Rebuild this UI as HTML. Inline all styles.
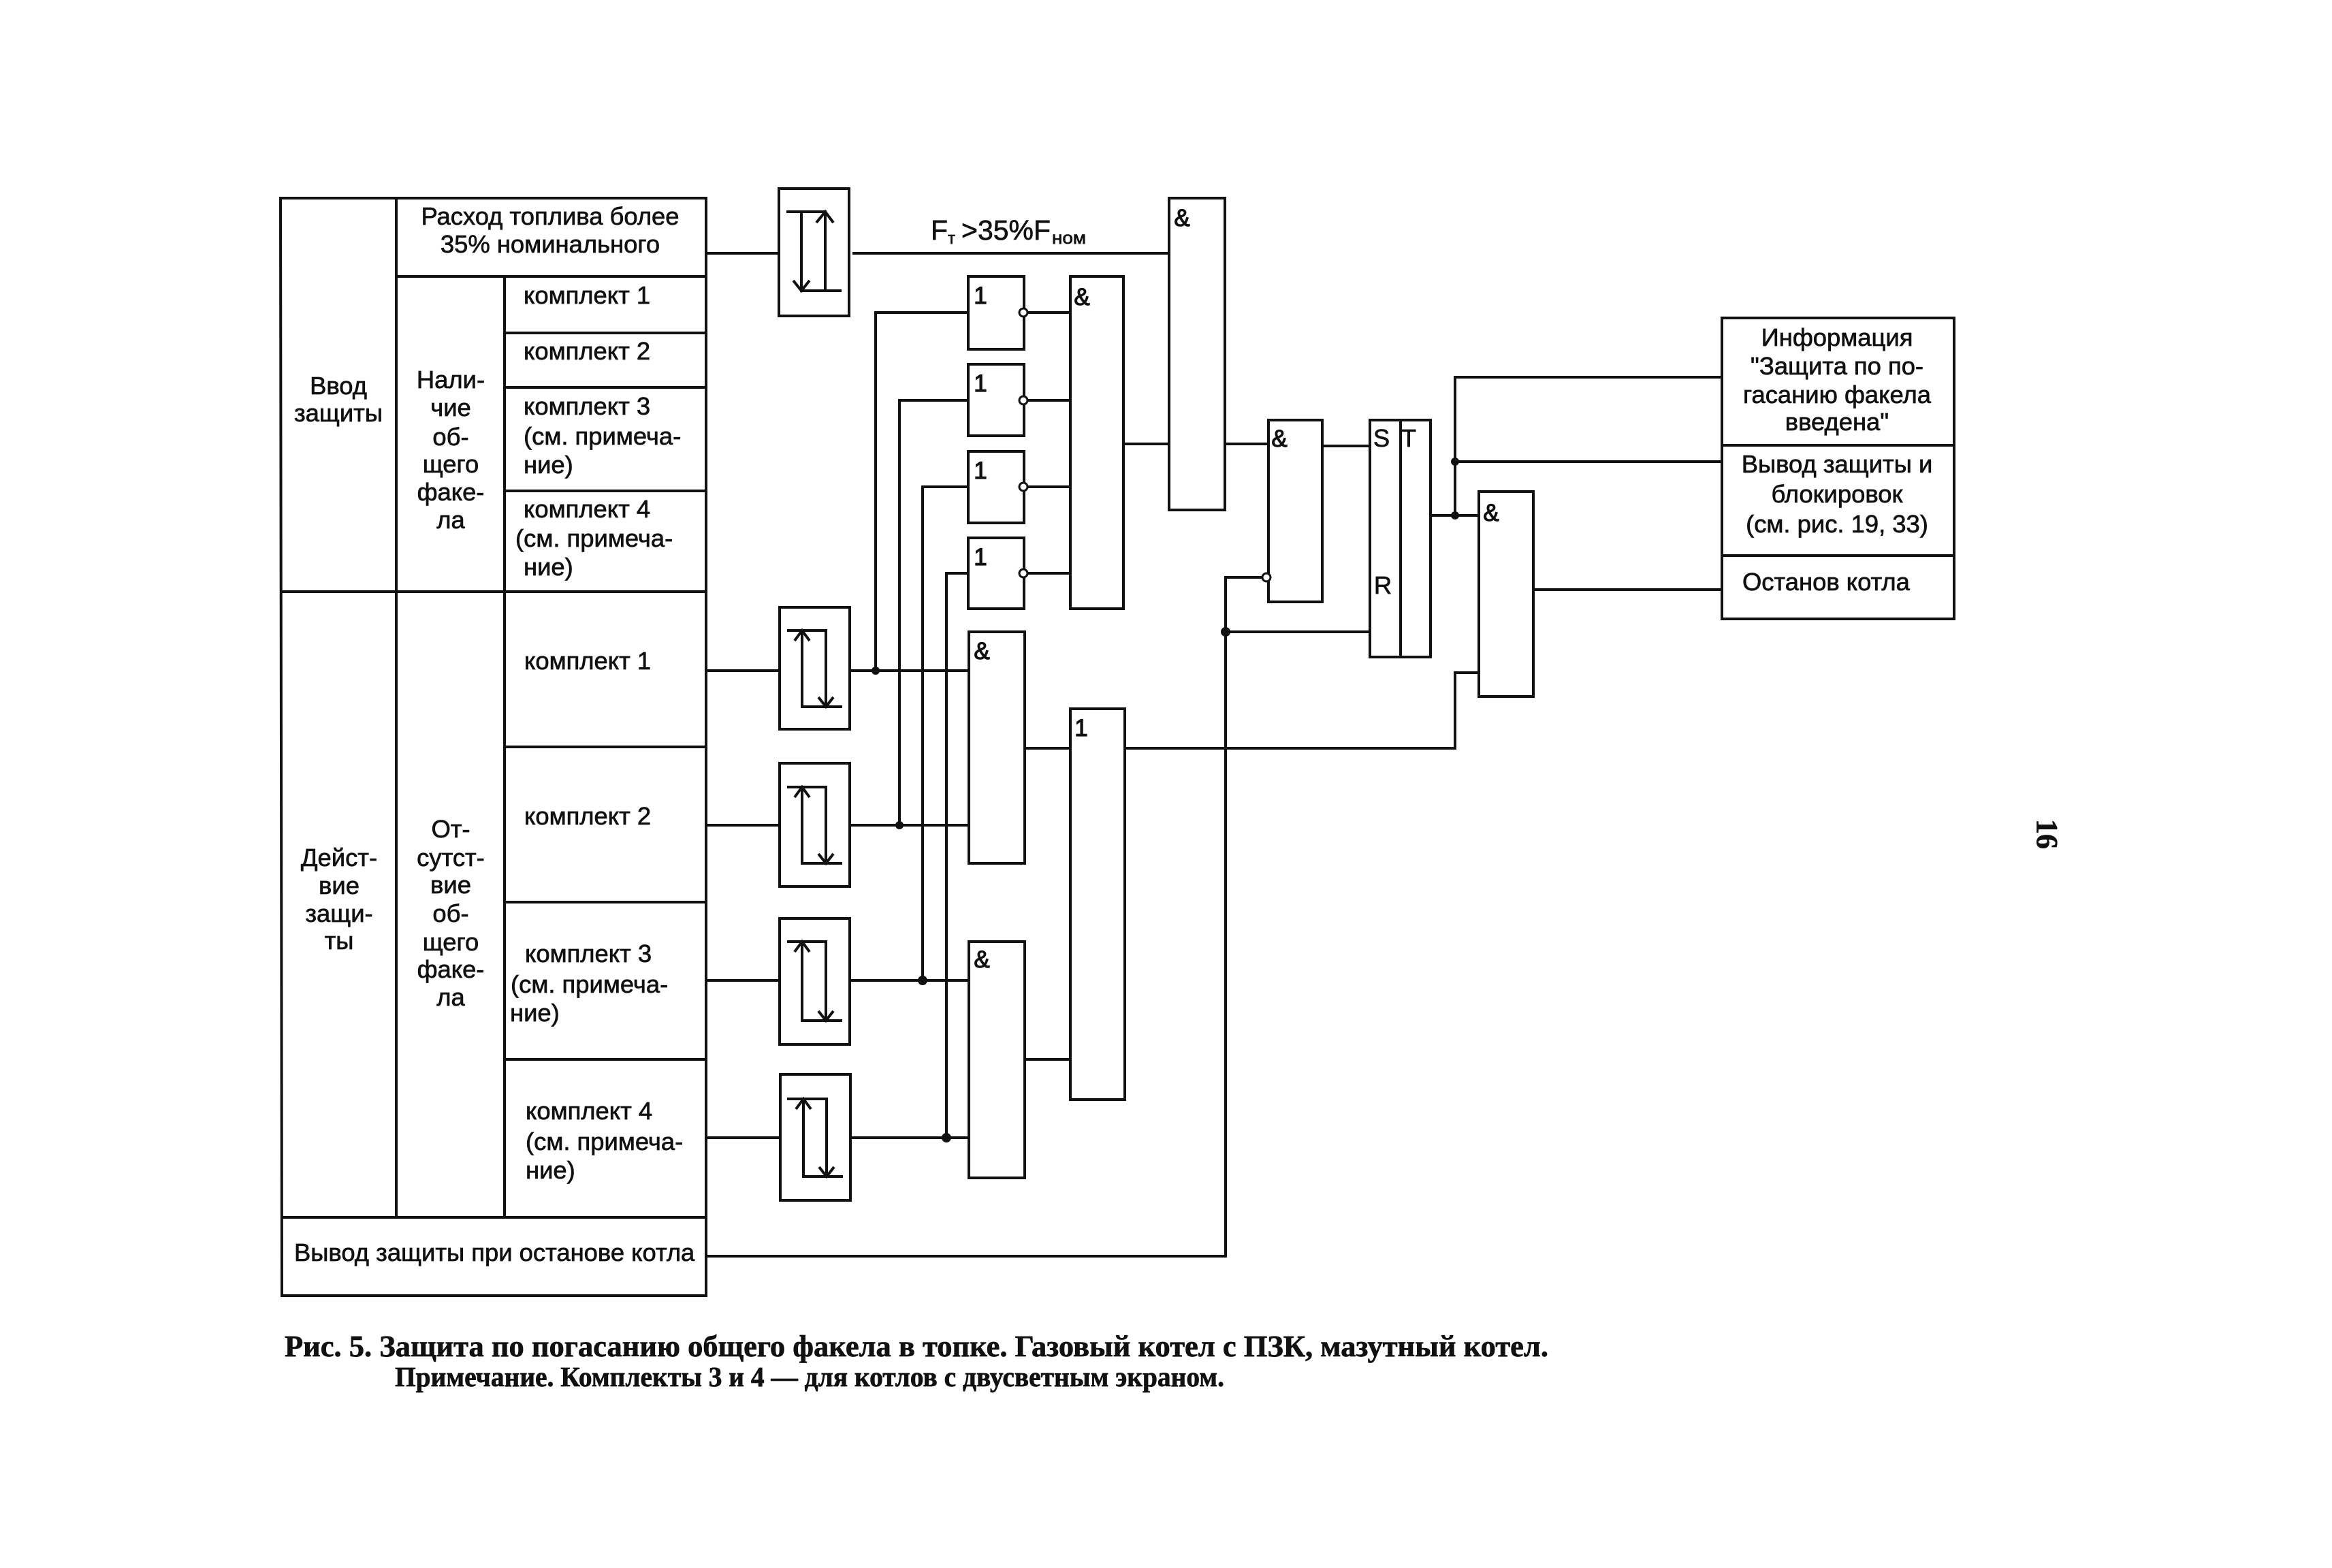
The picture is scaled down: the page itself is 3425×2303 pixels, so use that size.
<!DOCTYPE html>
<html><head><meta charset="utf-8"><style>
html,body{margin:0;padding:0;background:#fff}
svg{display:block}
text{font-family:"Liberation Sans",sans-serif;font-size:36.4px;fill:#111;stroke:#111;stroke-width:.7px}
.c{text-anchor:middle}
.g{font-size:35px;stroke-width:1.2px}
.s{font-family:"Liberation Serif",serif;font-weight:bold;font-size:44px}
</style></head><body>
<svg width="3425" height="2303" viewBox="0 0 3425 2303" xmlns="http://www.w3.org/2000/svg">
<rect width="3425" height="2303" fill="#fff"/>
<g fill="none" stroke="#111" stroke-width="4">
<!-- left table -->
<path d="M412 291H1037V1903H414Z"/>
<path d="M582 291V1788M741 406V1788M582 406H1037M741 489H1037M741 569H1037M741 721H1037M412 869H1037M741 1097H1037M741 1325H1037M741 1556H1037M414 1788H1037"/>
<!-- input lines -->
<path d="M1037 372H1144M1037 985H1145M1037 1212H1145M1037 1440H1145M1037 1671H1146M1037 1845H1800V848H1855"/>
<!-- schmitt boxes -->
<rect x="1144" y="277" width="103" height="187"/>
<rect x="1145" y="892" width="103" height="179"/>
<rect x="1145" y="1121" width="103" height="181"/>
<rect x="1145" y="1349" width="103" height="185"/>
<rect x="1146" y="1578" width="103" height="185"/>
<!-- schmitt inner -->
<path d="M1155 311H1212V427M1177 311V427H1236M1199 327L1212 311L1224 327M1165 412L1177 427L1189 412"/>
<path d="M1156 926H1213V1038M1178 926V1038H1237M1167 941L1178 926L1189 941M1202 1024L1213 1038L1224 1024"/>
<path d="M1156 1156H1213V1268M1178 1156V1268H1237M1167 1171L1178 1156L1189 1171M1202 1254L1213 1268L1224 1254"/>
<path d="M1156 1383H1213V1499M1178 1383V1499H1237M1167 1398L1178 1383L1189 1398M1202 1485L1213 1499L1224 1485"/>
<path d="M1156 1614H1214V1728M1180 1614V1728H1238M1169 1629L1180 1614L1191 1629M1203 1714L1214 1728L1225 1714"/>
<!-- wires -->
<path d="M1252 372H1717"/>
<path d="M1248 985H1423M1286 985V459H1422"/>
<path d="M1248 1212H1423M1321 1212V588H1422"/>
<path d="M1248 1440H1423M1355 1440V715H1422"/>
<path d="M1249 1671H1423M1390 1671V842H1422"/>
<!-- gates -->
<rect x="1422" y="406" width="82" height="107"/>
<rect x="1422" y="535" width="82" height="105"/>
<rect x="1422" y="663" width="82" height="105"/>
<rect x="1422" y="790" width="82" height="104"/>
<path d="M1504 459H1572M1504 588H1572M1504 715H1572M1504 842H1572"/>
<rect x="1572" y="406" width="78" height="488"/>
<rect x="1717" y="291" width="82" height="458"/>
<path d="M1650 652H1717M1799 652H1863M1942 655H2012"/>
<rect x="1863" y="617" width="79" height="267"/>
<rect x="1423" y="928" width="82" height="340"/>
<rect x="1423" y="1383" width="82" height="347"/>
<rect x="1572" y="1041" width="80" height="574"/>
<path d="M1505 1099H1572M1505 1556H1572M1652 1099H2137V988H2172"/>
<!-- SRT -->
<rect x="2012" y="617" width="89" height="348"/>
<path d="M2057 617V965M1800 928H2012"/>
<path d="M2101 757H2172M2137 757V554H2529M2137 678H2529"/>
<rect x="2172" y="722" width="80" height="301"/>
<path d="M2252 866H2529"/>
<!-- right block -->
<path d="M2529 467H2870V909H2529ZM2529 654H2870M2529 816H2870"/>
</g>
<!-- bubbles / junctions -->
<g fill="#fff" stroke="#111" stroke-width="3">
<circle cx="1503" cy="459" r="6"/><circle cx="1503" cy="588" r="6"/><circle cx="1503" cy="715" r="6"/><circle cx="1503" cy="842" r="6"/>
<circle cx="1860" cy="848" r="6"/>
</g>
<g fill="#111">
<circle cx="1286" cy="985" r="6"/><circle cx="1321" cy="1212" r="6"/><circle cx="1355" cy="1440" r="7"/><circle cx="1390" cy="1671" r="7"/>
<circle cx="1800" cy="928" r="7"/><circle cx="2137" cy="678" r="6"/><circle cx="2137" cy="757" r="6"/>
</g>
<!-- table text -->
<text class="c" x="808" y="330">Расход топлива более</text>
<text class="c" x="808" y="371">35% номинального</text>
<text class="c" x="497" y="579">Ввод</text>
<text class="c" x="497" y="619">защиты</text>
<text class="c" x="662" y="570">Нали-</text>
<text class="c" x="662" y="611">чие</text>
<text class="c" x="662" y="654">об-</text>
<text class="c" x="662" y="694">щего</text>
<text class="c" x="662" y="735">факе-</text>
<text class="c" x="662" y="776">ла</text>
<text x="769" y="446">комплект 1</text>
<text x="769" y="528">комплект 2</text>
<text x="769" y="609">комплект 3</text>
<text x="769" y="653">(см. примеча-</text>
<text x="769" y="695">ние)</text>
<text x="769" y="760">комплект 4</text>
<text x="757" y="803">(см. примеча-</text>
<text x="769" y="845">ние)</text>
<text x="770" y="983">комплект 1</text>
<text x="770" y="1211">комплект 2</text>
<text x="771" y="1413">комплект 3</text>
<text x="750" y="1458">(см. примеча-</text>
<text x="749" y="1500">ние)</text>
<text x="772" y="1644">комплект 4</text>
<text x="772" y="1689">(см. примеча-</text>
<text x="772" y="1731">ние)</text>
<text class="c" x="498" y="1272">Дейст-</text>
<text class="c" x="498" y="1313">вие</text>
<text class="c" x="498" y="1354">защи-</text>
<text class="c" x="498" y="1394">ты</text>
<text class="c" x="662" y="1230">От-</text>
<text class="c" x="662" y="1272">сутст-</text>
<text class="c" x="662" y="1312">вие</text>
<text class="c" x="662" y="1354">об-</text>
<text class="c" x="662" y="1396">щего</text>
<text class="c" x="662" y="1436">факе-</text>
<text class="c" x="662" y="1477">ла</text>
<text x="432" y="1852">Вывод защиты при останове котла</text>
<!-- F label -->
<text x="1367" y="352" style="font-size:41px">F</text>
<text x="1392" y="358" style="font-size:24px">т</text>
<text x="1412" y="352" style="font-size:41px">&gt;35%F</text>
<text x="1545" y="358" style="font-size:25px" textLength="50" lengthAdjust="spacingAndGlyphs">ном</text>
<!-- gate labels -->
<text class="g c" x="1736" y="332">&amp;</text>
<text class="g c" x="1589" y="448">&amp;</text>
<text class="g c" x="1440" y="446">1</text>
<text class="g c" x="1440" y="575">1</text>
<text class="g c" x="1440" y="703">1</text>
<text class="g c" x="1440" y="830">1</text>
<text class="g c" x="1879" y="656">&amp;</text>
<text class="g c" x="1442" y="968">&amp;</text>
<text class="g c" x="1442" y="1421">&amp;</text>
<text class="g c" x="1588" y="1081">1</text>
<text class="g c" x="2190" y="765">&amp;</text>
<text class="c" x="2029" y="656">S</text>
<text class="c" x="2069" y="656">T</text>
<text class="c" x="2031" y="872">R</text>
<!-- right text -->
<text class="c" x="2698" y="508">Информация</text>
<text class="c" x="2698" y="550">"Защита по по-</text>
<text class="c" x="2698" y="592">гасанию факела</text>
<text class="c" x="2698" y="632">введена"</text>
<text class="c" x="2698" y="694">Вывод защиты и</text>
<text class="c" x="2698" y="738">блокировок</text>
<text class="c" x="2698" y="782">(см. рис. 19, 33)</text>
<text x="2559" y="867">Останов котла</text>
<!-- caption -->
<text class="s" x="418" y="1992" textLength="1856" lengthAdjust="spacingAndGlyphs">Рис. 5. Защита по погасанию общего факела в топке. Газовый котел с ПЗК, мазутный котел.</text>
<text class="s" x="580" y="2036" textLength="1218" lengthAdjust="spacingAndGlyphs" style="font-size:41px">Примечание. Комплекты 3 и 4 — для котлов с двусветным экраном.</text>
<text transform="translate(2992 1203) rotate(90)" style="font-family:'Liberation Serif',serif;font-weight:bold;font-size:44px">16</text>
</svg>
</body></html>
